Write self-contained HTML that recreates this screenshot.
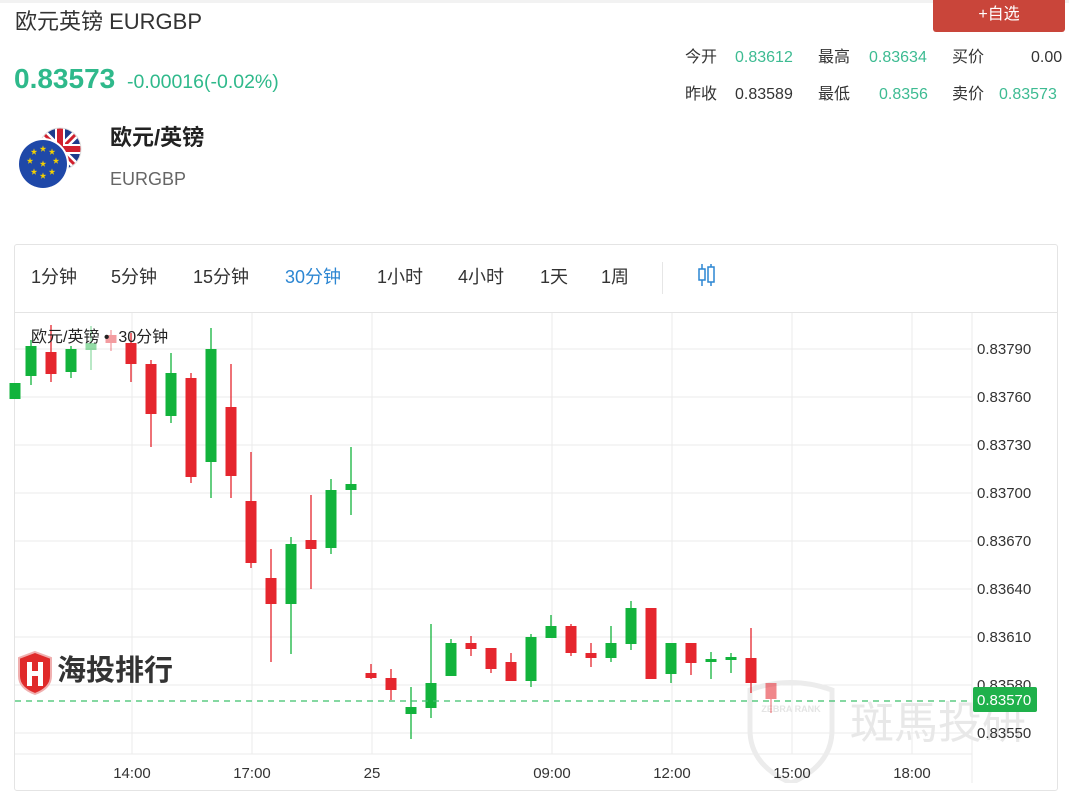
<!DOCTYPE html>
<html><head><meta charset="utf-8"><style>
body{margin:0;width:1069px;height:783px;overflow:hidden;background:#fff;font-family:"Liberation Sans","Noto Sans CJK SC",sans-serif;color:#333;position:relative}
.a{position:absolute;white-space:nowrap}
.s{font-size:16px;line-height:20px;height:20px}
.g{color:#3dbb92}
</style></head><body>
<div style="position:absolute;left:0;top:0;width:1069px;height:3px;background:#f2f2f2"></div>
<div class="a" style="left:15px;top:7px;font-size:22px;line-height:30px;color:#333">欧元英镑 EURGBP</div>
<div class="a g" style="left:14px;top:63px;font-size:28px;line-height:32px;font-weight:bold;color:#2fb98b">0.83573</div>
<div class="a g" style="left:127px;top:70px;font-size:19.5px;line-height:24px;color:#2fb98b">-0.00016(-0.02%)</div>
<div class="a" style="left:933px;top:0;width:132px;height:32px;background:#c9453a;border-radius:0 0 3px 3px;color:#fff;font-size:16px;text-align:center;line-height:30px">+自选</div>
<div class="a s" style="left:685px;top:48px">今开</div>
<div class="a s g" style="left:735px;top:48px">0.83612</div>
<div class="a s" style="left:818px;top:48px">最高</div>
<div class="a s g" style="left:869px;top:48px">0.83634</div>
<div class="a s" style="left:952px;top:48px">买价</div>
<div class="a s" style="left:1031px;top:48px">0.00</div>
<div class="a s" style="left:685px;top:85px">昨收</div>
<div class="a s" style="left:735px;top:85px">0.83589</div>
<div class="a s" style="left:818px;top:85px">最低</div>
<div class="a s g" style="left:879px;top:85px">0.8356</div>
<div class="a s" style="left:952px;top:85px">卖价</div>
<div class="a s g" style="left:999px;top:85px">0.83573</div>
<svg class="a" style="left:15px;top:120px" width="80" height="75">
<defs><clipPath id="uk"><circle cx="45" cy="29" r="21"/></clipPath></defs>
<g clip-path="url(#uk)"><rect x="20" y="5" width="50" height="50" fill="#1d3b8c"/>
<path d="M20 5L70 55M70 5L20 55" stroke="#fff" stroke-width="8"/><path d="M20 5L70 55M70 5L20 55" stroke="#d0202e" stroke-width="3"/>
<rect x="40" y="5" width="10" height="50" fill="#fff"/><rect x="20" y="24" width="50" height="10" fill="#fff"/>
<rect x="42" y="5" width="6" height="50" fill="#d0202e"/><rect x="20" y="26" width="50" height="6" fill="#d0202e"/></g>
<circle cx="45" cy="29" r="21" fill="none" stroke="#ddd"/>
<circle cx="28" cy="44" r="26" fill="#fff"/><circle cx="28" cy="44" r="24" fill="#1f48a8"/>
<g fill="#f4d000" font-size="7" text-anchor="middle"><text x="28" y="31">★</text><text x="37" y="34">★</text><text x="41" y="43">★</text><text x="37" y="54">★</text><text x="28" y="58">★</text><text x="19" y="54">★</text><text x="15" y="43">★</text><text x="19" y="34">★</text><text x="28" y="46">★</text></g>
</svg>
<div class="a" style="left:110px;top:123px;font-size:22px;line-height:30px;font-weight:bold;color:#222">欧元/英镑</div>
<div class="a" style="left:110px;top:167px;font-size:18px;line-height:24px;color:#666">EURGBP</div>
<div class="a" style="left:14px;top:244px;width:1042px;height:545px;border:1px solid #e4e4e4;border-radius:3px"></div>
<div class="a" style="left:15px;top:312px;width:1042px;height:1px;background:#e4e4e4"></div>
<div class="a" style="left:662px;top:262px;width:1px;height:32px;background:#e6e6e6"></div>
<div style="position:absolute;top:265px;left:0;font-size:18px;line-height:24px">
<div class="a" style="left:31px">1分钟</div>
<div class="a" style="left:111px">5分钟</div>
<div class="a" style="left:193px">15分钟</div>
<div class="a" style="left:285px;color:#2c86d2">30分钟</div>
<div class="a" style="left:377px">1小时</div>
<div class="a" style="left:458px">4小时</div>
<div class="a" style="left:540px">1天</div>
<div class="a" style="left:601px">1周</div>
</div>
<svg class="a" style="left:696px;top:262px" width="22" height="26"><g stroke="#2c86d2" fill="none" stroke-width="1.5"><line x1="6" y1="2" x2="6" y2="24"/><rect x="3" y="7" width="6" height="11" fill="#fff"/><line x1="15" y1="2" x2="15" y2="24"/><rect x="12" y="5" width="6" height="15" fill="#fff"/></g></svg>
<svg class="a" style="left:0;top:0" width="1069" height="783" id="c">
<g stroke="#ebebeb" stroke-width="1">
<line x1="15" y1="349" x2="972" y2="349"/><line x1="15" y1="397" x2="972" y2="397"/><line x1="15" y1="445" x2="972" y2="445"/><line x1="15" y1="493" x2="972" y2="493"/><line x1="15" y1="541" x2="972" y2="541"/><line x1="15" y1="589" x2="972" y2="589"/><line x1="15" y1="637" x2="972" y2="637"/><line x1="15" y1="685" x2="972" y2="685"/><line x1="15" y1="733" x2="972" y2="733"/>
<line x1="15" y1="754" x2="972" y2="754"/>
<line x1="132" y1="313" x2="132" y2="754"/><line x1="252" y1="313" x2="252" y2="754"/><line x1="372" y1="313" x2="372" y2="754"/><line x1="552" y1="313" x2="552" y2="754"/><line x1="672" y1="313" x2="672" y2="754"/><line x1="792" y1="313" x2="792" y2="754"/><line x1="912" y1="313" x2="912" y2="754"/>
<line x1="972" y1="313" x2="972" y2="783"/>
</g>
<text x="850" y="738" font-size="44" fill="#e8e8e8" font-family="Liberation Sans,Noto Sans CJK TC,sans-serif">斑馬投研</text>
<path d="M750 690 Q790 675 832 690 L832 730 Q832 765 791 783 Q750 765 750 730Z" fill="none" stroke="#ececec" stroke-width="5"/>
<text x="791" y="712" font-size="9" fill="#e4e4e4" text-anchor="middle" font-weight="bold">ZEBRA RANK</text>
<g id="k"></g>
<line x1="15" y1="701" x2="972" y2="701" stroke="#3cc06b" stroke-dasharray="6,5" stroke-width="1.2"/>
<g font-size="15" fill="#333"><text x="977" y="354">0.83790</text><text x="977" y="402">0.83760</text><text x="977" y="450">0.83730</text><text x="977" y="498">0.83700</text><text x="977" y="546">0.83670</text><text x="977" y="594">0.83640</text><text x="977" y="642">0.83610</text><text x="977" y="690">0.83580</text><text x="977" y="738">0.83550</text></g>
<rect x="973" y="687" width="64" height="25" rx="2" fill="#1fb14b"/><text x="977" y="705" font-size="15" fill="#fff">0.83570</text>
<g font-size="15" fill="#333" text-anchor="middle"><text x="132" y="778">14:00</text><text x="252" y="778">17:00</text><text x="372" y="778">25</text><text x="552" y="778">09:00</text><text x="672" y="778">12:00</text><text x="792" y="778">15:00</text><text x="912" y="778">18:00</text></g>
</svg>
<div class="a" style="left:31px;top:327px;font-size:16px;line-height:22px;color:#222">欧元/英镑 •&nbsp; 30分钟</div>
<svg class="a" style="left:16px;top:650px" width="38" height="46"><path d="M19 2 L35 8 L35 26 Q35 38 19 44 Q3 38 3 26 L3 8Z" fill="#e02a2a" stroke="#f0b0b0" stroke-width="2"/><path d="M11 12h5v9h6v-9h5v24h-5v-10h-6v10h-5z" fill="#fff"/></svg>
<div class="a" style="left:57px;top:652px;font-size:29px;line-height:38px;font-weight:bold;color:#333">海投排行</div>
<script>
var d=[[15,1,383,399,383,399],[31,1,346,376,340,385],[51,0,352,374,325,382],[71,1,349,372,346,378],[91,1,343,350,326,370,.45],[111,0,335,343,330,351,.45],[131,0,343,364,333,382],[151,0,364,414,360,447],[171,1,373,416,353,423],[191,0,378,477,373,483],[211,1,349,462,328,498],[231,0,407,476,364,498],[251,0,501,563,452,568],[271,0,578,604,549,662],[291,1,544,604,537,654],[311,0,540,549,495,589],[331,1,490,548,479,554],[351,1,484,490,447,515],[371,0,673,678,664,679],[391,0,678,690,669,700],[411,1,707,714,687,739],[431,1,683,708,624,718],[451,1,643,676,639,676],[471,0,643,649,636,656],[491,0,648,669,648,673],[511,0,662,681,653,681],[531,1,637,681,634,687],[551,1,626,638,615,638],[571,0,626,653,624,656],[591,0,653,658,643,667],[611,1,643,658,626,662],[631,1,608,644,601,650],[651,0,608,679,608,679],[671,1,643,674,643,683],[691,0,643,663,643,675],[711,1,659,662,652,679],[731,1,657,660,653,673],[751,0,658,683,628,693],[771,0,683,699,683,713,.55]];
var s='';d.forEach(function(c){var col=c[1]?'#12b33c':'#e5262e';var o=c[6]||1;s+='<g opacity="'+o+'"><line x1="'+c[0]+'" y1="'+c[4]+'" x2="'+c[0]+'" y2="'+c[5]+'" stroke="'+col+'" stroke-width="1.3"/><rect x="'+(c[0]-5.5)+'" y="'+c[2]+'" width="11" height="'+Math.max(2,c[3]-c[2])+'" fill="'+col+'"/></g>';});
document.getElementById('k').innerHTML=s;
</script>
</body></html>
